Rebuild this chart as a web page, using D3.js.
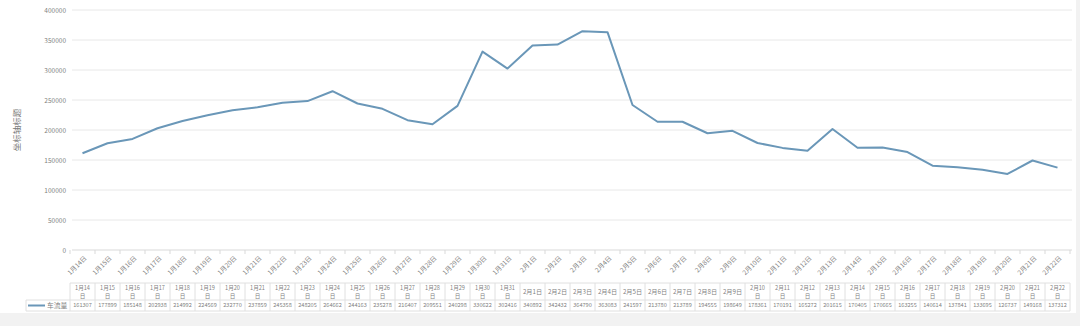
<!DOCTYPE html>
<html><head><meta charset="utf-8">
<script src="https://cdn.jsdelivr.net/npm/d3@7"></script>
<style>html,body{margin:0;padding:0;background:#fff;}svg{display:block;font-family:"Noto Sans CJK SC","Noto Sans",sans-serif;}</style>
</head><body>
<svg id="c" width="1080" height="326"></svg>
<script>
const categories = ["1月14日","1月15日","1月16日","1月17日","1月18日","1月19日","1月20日","1月21日","1月22日","1月23日","1月24日","1月25日","1月26日","1月27日","1月28日","1月29日","1月30日","1月31日","2月1日","2月2日","2月3日","2月4日","2月5日","2月6日","2月7日","2月8日","2月9日","2月10日","2月11日","2月12日","2月13日","2月14日","2月15日","2月16日","2月17日","2月18日","2月19日","2月20日","2月21日","2月22日"];
const traffic = [161307,177899,185148,202938,214992,224569,232770,237859,245358,248205,264662,244163,235278,216407,209551,240298,330622,302416,340892,342432,364790,363083,241597,213780,213789,194555,198649,178361,170191,165272,201615,170405,170665,163255,140614,137841,133695,126737,149168,137312];
const yTicks = [0,50000,100000,150000,200000,250000,300000,350000,400000];
const seriesName = "车流量";
const yTitle = "坐标轴标题";

const svg = d3.select("#c");
svg.append("rect").attr("x",0).attr("y",313).attr("width",1080).attr("height",13).attr("fill","#f2f2f2");
svg.append("rect").attr("x",1076).attr("y",0).attr("width",4).attr("height",326).attr("fill","#f2f2f2");

const x = d3.scaleBand().domain(categories).range([70,1070]);
const y = d3.scaleLinear().domain([0,400000]).range([250,10]);
const txt = "#7f7f7f";

// gridlines
svg.append("g").selectAll("line").data(yTicks).join("line")
  .attr("x1",72).attr("x2",1072).attr("y1",d=>y(d)).attr("y2",d=>y(d))
  .attr("stroke",d=>d===0?"#d9d9d9":"#e8e8e8").attr("stroke-width",1);

// y axis labels
const ya = svg.append("g").attr("transform","translate(66,0)")
  .call(d3.axisLeft(y).tickValues(yTicks).tickSize(0).tickPadding(0).tickFormat(d3.format("d")));
ya.select(".domain").remove();
ya.selectAll("text").attr("fill",txt).attr("font-size",6.5).attr("font-family","'Noto Sans CJK SC'");

svg.append("text").attr("transform","translate(20,130) rotate(-90)").attr("text-anchor","middle")
  .attr("fill","#777").attr("font-size",8.5).text(yTitle);

// x ticks
svg.append("g").selectAll("line").data(categories.concat(["__end"])).join("line")
  .attr("x1",(d,i)=>70+i*x.step()).attr("x2",(d,i)=>70+i*x.step())
  .attr("y1",250).attr("y2",254).attr("stroke","#d9d9d9");

// rotated x labels
svg.append("g").selectAll("text").data(categories).join("text")
  .attr("transform",d=>`translate(${x(d)+x.bandwidth()/2+3},257) rotate(-45)`)
  .attr("text-anchor","end").attr("dy","0.35em").attr("fill",txt).attr("font-size",6.5).text(d=>d);

// line
const line = d3.line().x((d,i)=>x(categories[i])+x.bandwidth()/2).y(d=>y(d));
svg.append("path").datum(traffic).attr("d",line).attr("fill","none")
  .attr("stroke","#6a97b8").attr("stroke-width",2).attr("stroke-linejoin","round");

// data table
const tTop = 283, hH = 17, rH = 11;
const tb = svg.append("g");
tb.append("line").attr("x1",70).attr("x2",1070).attr("y1",tTop).attr("y2",tTop).attr("stroke","#e0e0e0");
tb.append("line").attr("x1",26).attr("x2",1070).attr("y1",tTop+hH).attr("y2",tTop+hH).attr("stroke","#e0e0e0");
tb.append("line").attr("x1",26).attr("x2",1070).attr("y1",tTop+hH+rH).attr("y2",tTop+hH+rH).attr("stroke","#e0e0e0");
tb.append("line").attr("x1",26).attr("x2",26).attr("y1",tTop+hH).attr("y2",tTop+hH+rH).attr("stroke","#e0e0e0");
tb.selectAll("line.v").data(categories.concat(["__end"])).join("line").attr("class","v")
  .attr("x1",(d,i)=>70+i*x.step()).attr("x2",(d,i)=>70+i*x.step())
  .attr("y1",tTop).attr("y2",tTop+hH+rH).attr("stroke","#e0e0e0");

categories.forEach((c,i)=>{
  const cx = x(c)+x.bandwidth()/2;
  const m = c.match(/^(\d+月\d+)(日)$/);
  if (c.length <= 4) {
    tb.append("text").attr("x",cx).attr("y",tTop+hH/2).attr("dy","0.35em").attr("text-anchor","middle")
      .attr("fill",txt).attr("font-size",6.2).text(c);
  } else {
    tb.append("text").attr("x",cx).attr("y",tTop+4.6).attr("dy","0.35em").attr("text-anchor","middle")
      .attr("fill",txt).attr("font-size",5.6).text(m[1]);
    tb.append("text").attr("x",cx).attr("y",tTop+12.6).attr("dy","0.35em").attr("text-anchor","middle")
      .attr("fill",txt).attr("font-size",5.6).text(m[2]);
  }
  tb.append("text").attr("x",cx).attr("y",tTop+hH+rH/2).attr("dy","0.35em").attr("text-anchor","middle")
    .attr("fill",txt).attr("font-size",5.6).text(traffic[i]);
});
// legend
tb.append("line").attr("x1",28).attr("x2",45).attr("y1",tTop+hH+rH/2).attr("y2",tTop+hH+rH/2)
  .attr("stroke","#6a97b8").attr("stroke-width",2);
tb.append("text").attr("x",47).attr("y",tTop+hH+rH/2).attr("dy","0.35em").attr("fill",txt)
  .attr("font-size",6.8).text(seriesName);
</script>
</body></html>
